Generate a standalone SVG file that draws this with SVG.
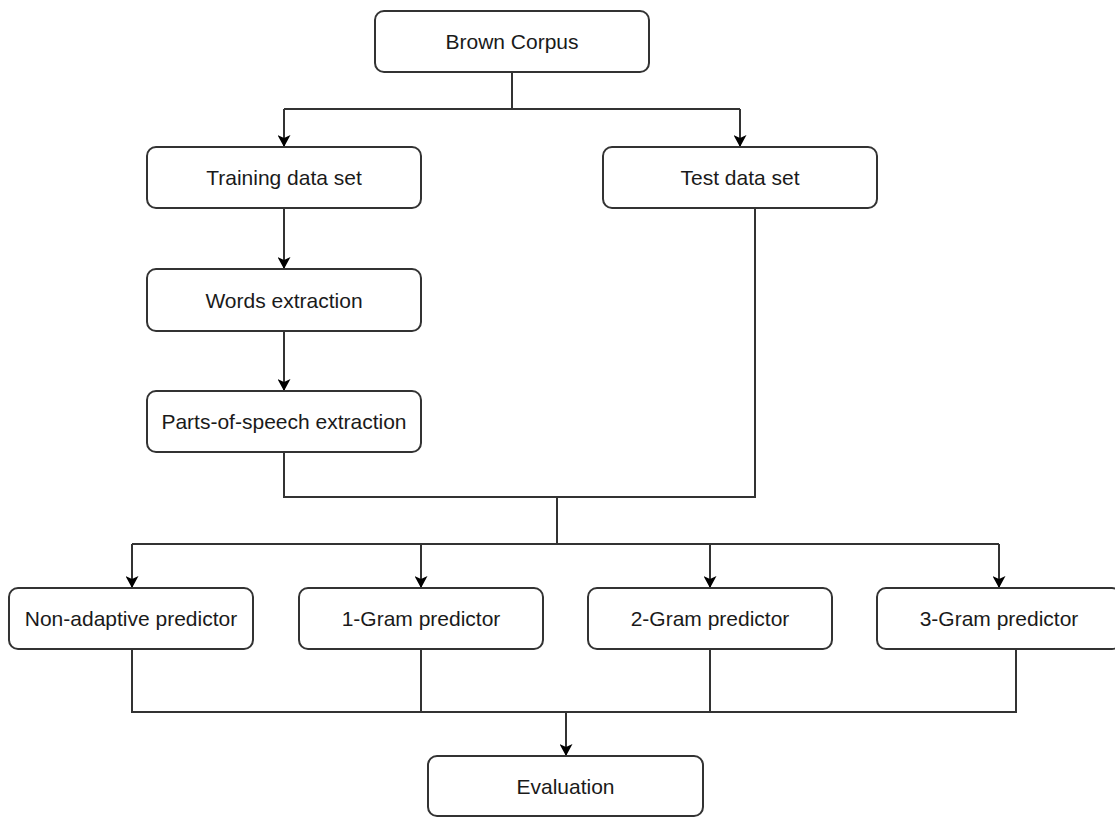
<svg xmlns="http://www.w3.org/2000/svg" width="1115" height="817" viewBox="0 0 1115 817">
<style>
.box{fill:#ffffff;stroke:#333333;stroke-width:2}
.lbl{font-family:"Liberation Sans",Arial,sans-serif;font-size:21px;fill:#1a1a1a;text-anchor:middle;dominant-baseline:central}
.ln{fill:none;stroke:#333333;stroke-width:2}
.ar{fill:none;stroke:#333333;stroke-width:2;marker-end:url(#ah)}
</style>
<defs>
<marker id="ah" markerWidth="12" markerHeight="13" refX="12" refY="6.5" orient="auto" markerUnits="userSpaceOnUse">
<path d="M0,0 L12,6.5 L0,13 L3,6.5 Z" fill="#000000"/>
</marker>
</defs>
<rect width="1115" height="817" fill="#ffffff"/>
<g id="connectors">
<path class="ln" d="M512,72 V109 H284"/>
<path class="ln" d="M512,109 H740"/>
<path class="ar" d="M284,109 V147"/>
<path class="ar" d="M740,109 V147"/>
<path class="ar" d="M284,208 V269"/>
<path class="ar" d="M284,331 V391"/>
<path class="ln" d="M284,452 V497 H755 V208"/>
<path class="ln" d="M557,497 V544"/>
<path class="ln" d="M132,544 H999"/>
<path class="ar" d="M132,544 V588"/>
<path class="ar" d="M421,544 V588"/>
<path class="ar" d="M710,544 V588"/>
<path class="ar" d="M999,544 V588"/>
<path class="ln" d="M132,649 V712 H1016 V649"/>
<path class="ln" d="M421,649 V712"/>
<path class="ln" d="M710,649 V712"/>
<path class="ar" d="M566,712 V756"/>
</g>
<g id="brown-corpus"><rect class="box" x="375" y="11" width="274" height="61" rx="9"/><text class="lbl" x="512" y="41.5">Brown Corpus</text></g>
<g id="training"><rect class="box" x="147" y="147" width="274" height="61" rx="9"/><text class="lbl" x="284" y="177.5">Training data set</text></g>
<g id="test"><rect class="box" x="603" y="147" width="274" height="61" rx="9"/><text class="lbl" x="740" y="177.5">Test data set</text></g>
<g id="words"><rect class="box" x="147" y="269" width="274" height="62" rx="9"/><text class="lbl" x="284" y="300">Words extraction</text></g>
<g id="pos"><rect class="box" x="147" y="391" width="274" height="61" rx="9"/><text class="lbl" x="284" y="421.5">Parts-of-speech extraction</text></g>
<g id="non-adaptive"><rect class="box" x="9" y="588" width="244" height="61" rx="9"/><text class="lbl" x="131" y="618.5">Non-adaptive predictor</text></g>
<g id="gram1"><rect class="box" x="299" y="588" width="244" height="61" rx="9"/><text class="lbl" x="421" y="618.5">1-Gram predictor</text></g>
<g id="gram2"><rect class="box" x="588" y="588" width="244" height="61" rx="9"/><text class="lbl" x="710" y="618.5">2-Gram predictor</text></g>
<g id="gram3"><rect class="box" x="877" y="588" width="244" height="61" rx="9"/><text class="lbl" x="999" y="618.5">3-Gram predictor</text></g>
<g id="evaluation"><rect class="box" x="428" y="756" width="275" height="60" rx="9"/><text class="lbl" x="565.5" y="786">Evaluation</text></g>
</svg>
